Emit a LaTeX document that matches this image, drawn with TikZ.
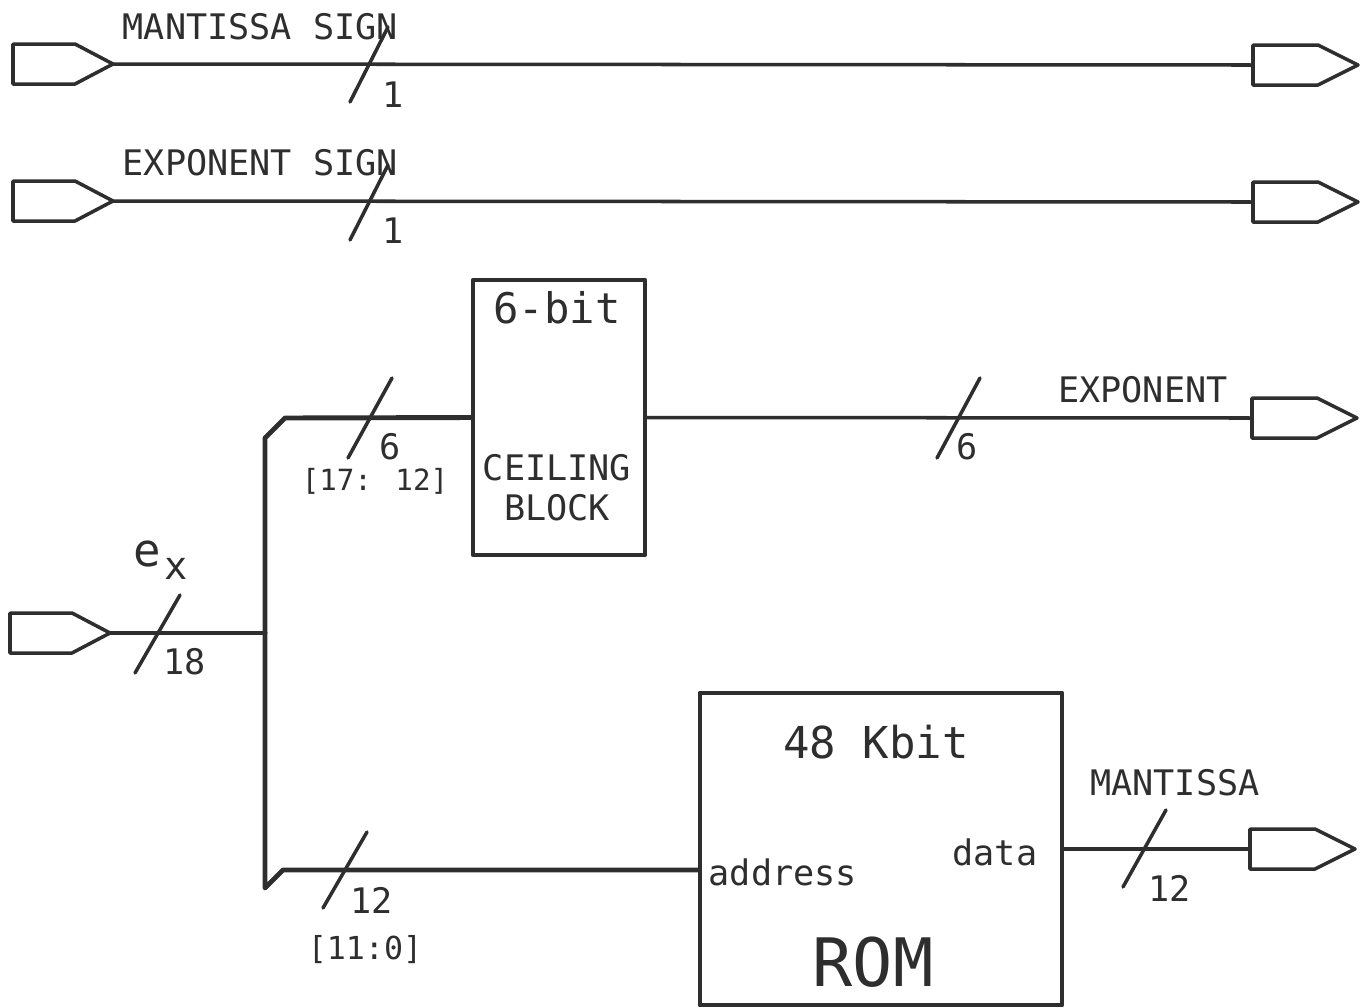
\documentclass[tikz,border=0pt]{standalone}
\usepackage{fontspec}
\setmainfont{DejaVu Sans Mono}
\begin{document}
\begin{tikzpicture}[x=0.01cm,y=-0.01cm,
  ink/.style={draw=black!82, line join=round, line cap=round},
  wire/.style={ink, line width=1.0pt},
  bus/.style={ink, line width=1.4pt},
  blk/.style={ink, line width=1.3pt, rectangle, inner sep=0pt},
  lbl/.style={text=black!82, inner sep=0pt, font=\fontsize{10}{12}\selectfont},
  small/.style={text=black!82, inner sep=0pt, font=\fontsize{8.3}{10}\selectfont},
  inport/.pic={
    \draw[wire] (0,-20) -- (62,-20) -- (100,0) -- (62,20) -- (0,20) -- cycle;
    \coordinate (-tip) at (100,0);},
  outport/.pic={
    \draw[wire] (0,-20) -- (65,-20) -- (105,0) -- (65,20) -- (0,20) -- cycle;
    \coordinate (-in) at (0,0);}
]
\useasboundingbox (0,0) rectangle (1362,1008);
\fill[white] (0,0) rectangle (1362,1008);

% ports
\pic (pa) at (13,64) {inport};
\pic (pb) at (13,201) {inport};
\pic (pc) at (10,633) {inport};
\pic (qa) at (1253,65) {outport};
\pic (qb) at (1253,202) {outport};
\pic (qc) at (1252,418) {outport};
\pic (qd) at (1250,849) {outport};

% blocks
\node[blk, draw, minimum width=1.72cm, minimum height=2.75cm] (ceil) at (559,417.5) {};
\node[blk, draw, minimum width=3.62cm, minimum height=3.12cm] (rom) at (881,849) {};

% junctions
\coordinate (jn) at (265,633);
\coordinate (jt) at (265,438);
\coordinate (jtb) at (285,418);
\coordinate (jb) at (265,888);
\coordinate (jbb) at (283,870);

% connectors
\draw[wire] (pa-tip) -- (qa-in);
\draw[wire] (pb-tip) -- (qb-in);
\draw[wire] (pc-tip) -- (jn);
\draw[bus] (jn) -- (jt) -- (jtb) -- (ceil.west);
\draw[bus] (jn) -- (jb) -- (jbb) -- (rom.west |- jbb);
\draw[wire] (ceil.east) -- (qc-in);
\draw[wire] (rom.east) -- (qd-in);

% bus slashes
\draw[wire] (350,102) -- (388,27);
\draw[wire] (350,240) -- (388,165);
\draw[wire] (348,458) -- (392,378);
\draw[wire] (937,458) -- (980,378);
\draw[wire] (135,673) -- (180,595);
\draw[wire] (323,908) -- (367,832);
\draw[wire] (1123,887) -- (1166,810);

% labels
\node[lbl, anchor=west] (tms) at (122,27) {MANTISSA SIGN};
\node[lbl, anchor=west] (tes) at (122,163) {EXPONENT SIGN};
\node[lbl] (w1a) at (393,95) {1};
\node[lbl] (w1b) at (393,231) {1};
\node[lbl, font=\fontsize{12}{14}\selectfont] (t6b) at (557,308) {6-bit};
\node[lbl] (tce) at (557,468) {CEILING};
\node[lbl] (tbl) at (557,508) {BLOCK};
\node[lbl] (w6a) at (390,447) {6};
\node[small] (r1) at (375,481) {[17: 12]};
\node[lbl] (texp) at (1143,390) {EXPONENT};
\node[lbl] (w6b) at (967,447) {6};
\node[lbl, anchor=base west] (tex) at (133,566) {\fontsize{13}{14}\selectfont e\kern1pt\raisebox{-0.55ex}{\fontsize{11}{12}\selectfont x}};
\node[lbl] (w18) at (185,662) {18};
\node[lbl] (w12a) at (372,900) {12};
\node[small, font=\fontsize{9}{10}\selectfont] (r2) at (365,950) {[11:0]};
\node[lbl, font=\fontsize{12.5}{14}\selectfont] (t48) at (876,742) {48 Kbit};
\node[lbl, anchor=west] (tad) at (708,872) {address};
\node[lbl] (tda) at (995,852) {data};
\node[lbl, font=\fontsize{19}{22}\selectfont] (trom) at (873,962) {ROM};
\node[lbl] (tman) at (1175,783) {MANTISSA};
\node[lbl] (w12b) at (1170,888) {12};
\end{tikzpicture}
\end{document}
